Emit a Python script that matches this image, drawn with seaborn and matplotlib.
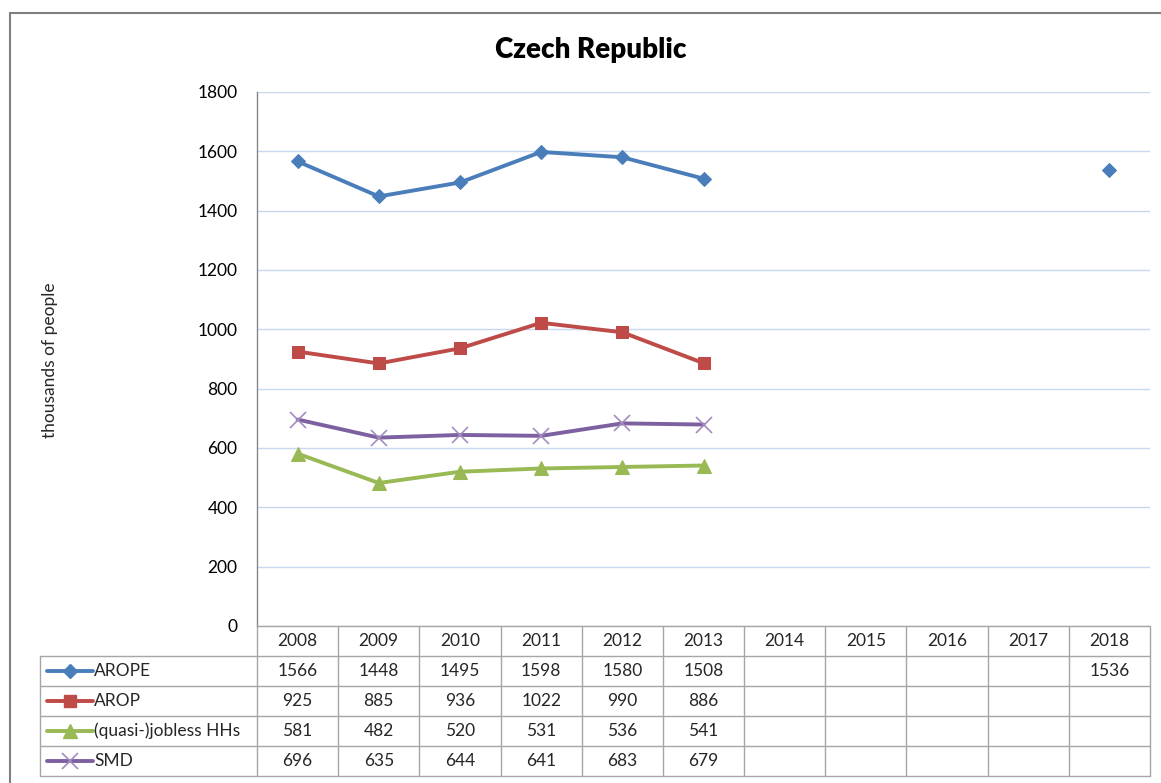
import numpy as np
import pandas as pd
import matplotlib
matplotlib.use("Agg")
import matplotlib.pyplot as plt
import seaborn as sns
from matplotlib.lines import Line2D

years = [2008, 2009, 2010, 2011, 2012, 2013, 2014, 2015, 2016, 2017, 2018]
arope = [1566, 1448, 1495, 1598, 1580, 1508, None, None, None, None, 1536]
arop = [925, 885, 936, 1022, 990, 886, None, None, None, None, None]
jobless = [581, 482, 520, 531, 536, 541, None, None, None, None, None]
smd = [696, 635, 644, 641, 683, 679, None, None, None, None, None]

names = ["AROPE", "AROP", "(quasi-)jobless HHs", "SMD"]
series = [arope, arop, jobless, smd]
colors = ["#4a7ebb", "#be4b48", "#98b954", "#7d60a0"]
markers = ["D", "s", "^", "x"]
msizes = [7.5, 8, 10, 11]

sns.set_theme(style="white")
plt.rcParams["font.family"] = ["Lato", "DejaVu Sans"]
fs = 12.5

fig = plt.figure(figsize=(11.61, 7.83), dpi=100)
W, H = 1161, 783

# main plot area
ax = fig.add_axes([257 / W, 1 - 626 / H, (1150 - 257) / W, (626 - 92) / H])
for name, vals, c, m, ms in zip(names, series, colors, markers, msizes):
    df = pd.DataFrame({"year": years, "value": vals}).dropna()
    # continuous run drawn as a line, the lone 2018 point as a marker only
    run = df[df["year"] <= 2013]
    rest = df[df["year"] > 2013]
    kw = dict(color=c, marker=m, markersize=ms)
    if m == "x":
        kw.update(markeredgecolor="#a48cc0", markeredgewidth=1.2)
    else:
        kw.update(markeredgecolor=c)
    sns.lineplot(data=run, x="year", y="value", ax=ax, linewidth=2.8, **kw)
    if len(rest):
        sns.lineplot(data=rest, x="year", y="value", ax=ax, linewidth=0, **kw)

ax.set_xlim(2007.5, 2018.5)
ax.set_ylim(0, 1800)
ax.set_yticks(np.arange(0, 1801, 200))
ax.set_xticks([])
ax.set_xlabel("")
ax.set_ylabel("")
ax.grid(axis="y", color="#c6d9f1", linewidth=1)
ax.set_axisbelow(True)
for s in ["top", "right", "bottom"]:
    ax.spines[s].set_visible(False)
ax.spines["left"].set_color("#868686")
ax.spines["left"].set_linewidth(1)
ax.tick_params(axis="y", length=0, pad=14, labelsize=fs, colors="black")

fig.text(591 / W, 1 - 50 / H, "Czech Republic", ha="center", va="center",
         fontsize=20, fontweight="heavy", color="black")
fig.text(50 / W, 1 - 360 / H, "thousands of people", ha="center", va="center",
         rotation=90, fontsize=fs)

# data table below the plot
col_w = (1150 - 257) / 11
L = (257 - 40) / col_w
tax = fig.add_axes([40 / W, 1 - 776 / H, (1150 - 40) / W, (776 - 626) / H])
tax.set_xlim(2007.5 - L, 2018.5)
tax.set_ylim(5, 0)
tax.axis("off")
gc = "#a6a6a6"
x0 = 2007.5
for j in range(12):
    tax.plot([x0 + j, x0 + j], [0, 5], color=gc, lw=1, clip_on=False)
tax.plot([x0 - L, x0 - L], [1, 5], color=gc, lw=1, clip_on=False)
tax.plot([x0, x0 + 11], [0, 0], color=gc, lw=1, clip_on=False)
for i in range(1, 6):
    tax.plot([x0 - L, x0 + 11], [i, i], color=gc, lw=1, clip_on=False)

for j, y in enumerate(years):
    tax.text(y, 0.5, str(y), ha="center", va="center", fontsize=fs)

for i, (name, vals, c, m, ms) in enumerate(zip(names, series, colors, markers, msizes)):
    r = i + 1.5
    kx = x0 - L + 0.09
    tax.plot([kx, kx + 0.56], [r, r], color=c, lw=2.8, clip_on=False)
    mk = dict(markeredgecolor="#a48cc0", markeredgewidth=1.2) if m == "x" else dict(markeredgecolor=c)
    tax.plot([kx + 0.28], [r], marker=m, color=c, markersize=ms, clip_on=False, **mk)
    tax.text(kx + 0.58, r, name, ha="left", va="center", fontsize=fs)
    for y, v in zip(years, vals):
        if v is not None:
            tax.text(y, r, str(v), ha="center", va="center", fontsize=fs)

# outer chart frame
fig.add_artist(Line2D([10 / W, 10 / W], [0, 1 - 13 / H], color="#7f7f7f", lw=1.5,
                      transform=fig.transFigure))
fig.add_artist(Line2D([10 / W, 1], [1 - 13 / H, 1 - 13 / H], color="#7f7f7f", lw=1.5,
                      transform=fig.transFigure))

fig.savefig("out.png", dpi=100)
